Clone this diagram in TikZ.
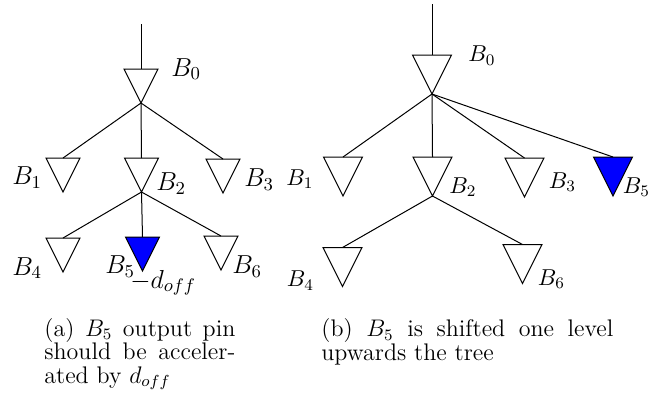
\RequirePackage{fix-cm}
\documentclass[tikz,border=0pt]{standalone}
\usetikzlibrary{shapes.geometric}
\newcommand{\captfont}{\fontsize{12}{11.8}\selectfont}
\begin{document}
\begin{tikzpicture}[x=0.5pt,y=-0.5pt,
  wire/.style={line width=0.5pt},
  triL/.style={draw, line width=0.5pt, isosceles triangle, isosceles triangle stretches,
    shape border rotate=270, inner sep=0pt, outer sep=0pt,
    minimum width=17pt, minimum height=17pt, anchor=north},
  triR/.style={triL, minimum width=19.5pt, minimum height=19.5pt},
  hot/.style={fill=blue},
  labL/.style={inner sep=0pt, anchor=base west, font=\fontsize{13}{15}\selectfont},
  labR/.style={inner sep=0pt, anchor=base west, font=\fontsize{11.5}{13}\selectfont},
  capt/.style={inner sep=0pt, anchor=base west, align=justify}
]
\useasboundingbox (0,0) rectangle (672,393);

% ---------- left tree ----------
\coordinate (ltop) at (141,24);
\node[triL] (lB0) at (141,69) {};
\node[triL] (lB1) at (63,158) {};
\node[triL] (lB2) at (141.5,158) {};
\node[triL] (lB3) at (223,159) {};
\node[triL] (lB4) at (63,238) {};
\node[triL,hot] (lB5) at (142.5,237) {};
\node[triL] (lB6) at (221,236) {};

\draw[wire] (ltop) -- (lB0.north);
\draw[wire] (lB0.south) -- (lB1.north);
\draw[wire] (lB0.south) -- (lB2.north);
\draw[wire] (lB0.south) -- (lB3.north);
\draw[wire] (lB2.south) -- (lB4.north);
\draw[wire] (lB2.south) -- (lB5.north);
\draw[wire] (lB2.south) -- (lB6.north);

\node[labL] (tlB0) at (171,76) {$B_0$};
\node[labL] (tlB1) at (12,184.3) {$B_1$};
\node[labL] (tlB2) at (156,190.7) {$B_2$};
\node[labL] (tlB3) at (244,186.7) {$B_3$};
\node[labL] (tlB4) at (12,275) {$B_4$};
\node[labL] (tlB5) at (105,273.3) {$B_5$};
\node[labL] (tdoff) at (130,288) {$-d_{off}$};
\node[labL] (tlB6) at (232,273.3) {$B_6$};

% ---------- right tree ----------
\coordinate (rtop) at (432,4);
\node[triR] (rB0) at (432,55) {};
\node[triR] (rB1) at (343,157) {};
\node[triR] (rB2) at (432.5,157) {};
\node[triR] (rB3) at (524.5,158) {};
\node[triR,hot] (rB5) at (613,157) {};
\node[triR] (rB4) at (342.5,247.5) {};
\node[triR] (rB6) at (522.5,244.5) {};

\draw[wire] (rtop) -- (rB0.north);
\draw[wire] (rB0.south) -- (rB1.north);
\draw[wire] (rB0.south) -- (rB2.north);
\draw[wire] (rB0.south) -- (rB3.north);
\draw[wire] (rB0.south) -- (rB5.north);
\draw[wire] (rB2.south) -- (rB4.north);
\draw[wire] (rB2.south) -- (rB6.north);

\node[labR] (trB0) at (468,61.7) {$B_0$};
\node[labR] (trB1) at (286,185) {$B_1$};
\node[labR] (trB2) at (449,193.3) {$B_2$};
\node[labR] (trB3) at (548.5,188.3) {$B_3$};
\node[labR] (trB5) at (622.5,193.3) {$B_5$};
\node[labR] (trB4) at (286.5,286.7) {$B_4$};
\node[labR] (trB6) at (537.5,285) {$B_6$};

% ---------- captions ----------
\node[capt, text width=95.5pt] (capa) at (44,336)
  {\captfont (a) $B_5$ output pin\linebreak should be acceler-\linebreak ated by $d_{off}$\par};
\node[capt, text width=146pt] (capb) at (321,336.7)
  {\captfont (b) $B_5$ is shifted one level\linebreak upwards the tree\par};
\end{tikzpicture}
\end{document}
